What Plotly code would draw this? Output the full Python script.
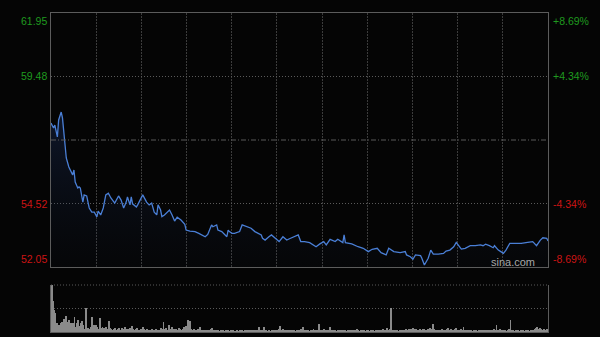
import plotly.graph_objects as go

# ---- data ----
prev_close = 57.00
price_min, price_max = 52.05, 61.95
left_tick_vals = [61.95, 59.48, 54.52, 52.05]
left_tick_text = ["61.95", "59.48", "54.52", "52.05"]
right_tick_text = ["+8.69%", "+4.34%", "-4.34%", "-8.69%"]
session_minutes = 390

minutes = [0, 2, 3, 5, 6, 8, 9, 11, 12, 14,
           16, 17, 18, 19, 21, 22, 23, 25, 26, 28,
           30, 32, 34, 36, 37, 39, 41, 43, 45, 47,
           50, 53, 55, 57, 59, 60, 62, 63, 64, 67,
           68, 72, 75, 77, 79, 81, 83, 84, 86, 87,
           89, 93, 95, 97, 99, 102, 105, 106, 109, 113,
           116, 121, 123, 126, 127, 130, 131, 134, 138, 139,
           140, 142, 144, 148, 150, 154, 157, 160, 163, 165,
           166, 168, 171, 173, 176, 179, 182, 185, 188, 194,
           196, 199, 203, 206, 208, 211, 214, 216, 219, 223,
           225, 229, 230, 231, 236, 241, 245, 249, 252, 256,
           259, 263, 265, 269, 274, 278, 279, 282, 284, 286,
           290, 291, 293, 296, 298, 300, 304, 308, 310, 313,
           316, 318, 320, 322, 325, 329, 333, 337, 339, 341,
           344, 347, 348, 351, 353, 355, 357, 360, 364, 369,
           374, 378, 381, 384, 386, 389, 390]

prices = [57.66, 57.47, 57.58, 57.12, 57.78, 58.09, 57.86, 56.69, 56.30, 55.95,
          55.71, 55.64, 55.83, 55.36, 55.13, 55.17, 55.13, 54.58, 54.86, 54.82,
          54.35, 54.19, 54.19, 54.00, 54.23, 54.08, 54.35, 54.86, 54.93, 54.74,
          54.54, 54.82, 54.66, 54.35, 54.58, 54.78, 54.47, 54.78, 54.51, 54.39,
          54.47, 54.86, 54.58, 54.47, 54.54, 54.19, 54.08, 54.47, 54.27, 54.01,
          54.08, 54.27, 54.08, 53.84, 53.99, 53.88, 53.71, 53.49, 53.45, 53.43,
          53.36, 53.23, 53.32, 53.69, 53.62, 53.69, 53.49, 53.43, 53.23, 53.49,
          53.43, 53.36, 53.36, 53.43, 53.69, 53.62, 53.56, 53.43, 53.36, 53.30,
          53.17, 53.10, 53.23, 53.30, 53.17, 53.04, 53.23, 53.10, 53.17, 53.30,
          53.04, 53.04, 53.00, 52.91, 52.84, 52.95, 53.04, 52.91, 53.13, 53.04,
          53.13, 53.00, 53.30, 53.00, 52.95, 52.84, 52.78, 52.65, 52.74, 52.78,
          52.61, 52.52, 52.78, 52.65, 52.61, 52.65, 52.52, 52.45, 52.35, 52.52,
          52.49, 52.39, 52.13, 52.39, 52.71, 52.55, 52.55, 52.58, 52.67, 52.71,
          52.84, 53.01, 52.88, 52.75, 52.78, 52.88, 52.88, 52.91, 52.88, 52.94,
          52.88, 52.80, 52.88, 52.71, 52.65, 52.58, 52.71, 52.97, 52.97, 52.97,
          53.01, 53.04, 52.88, 53.10, 53.19, 53.17, 53.06]

# per-minute volume (thousand shares), minute 0..390
volume = [47, 31, 22, 19, 9, 6, 7, 9, 10, 8,
          13, 16, 10, 6, 12, 9, 8, 9, 15, 5,
          9, 12, 6, 9, 11, 7, 3, 24, 4, 4,
          3, 5, 15, 7, 3, 7, 5, 3, 14, 4,
          5, 4, 3, 5, 3, 11, 4, 3, 2, 3,
          4, 2, 3, 4, 2, 4, 3, 2, 5, 3,
          2, 3, 4, 6, 3, 2, 3, 4, 2, 2,
          3, 2, 5, 3, 2, 3, 2, 1.5, 2, 3,
          2, 2, 3, 2, 1.5, 2, 4, 3, 10, 3,
          4, 2, 7, 3, 2, 5, 3, 2, 3, 2,
          4, 3, 2, 3, 5, 3, 6, 12, 4, 11,
          3, 2, 3, 2, 2, 3, 2, 5, 2, 1.5,
          2, 1.5, 2, 1.5, 2, 3, 4, 2, 1.5, 2,
          2, 1.5, 1, 1.5, 2, 1.5, 1, 1.5, 1, 1.5,
          1, 1.5, 1, 1.5, 1, 1, 1.5, 1, 1.5, 1,
          1.5, 1, 1.5, 1, 2, 1.5, 1, 1.5, 2, 1.5,
          2, 1.5, 2, 5, 2, 1.5, 2, 5, 2, 1.5,
          1, 1.5, 1, 1.5, 1, 1.5, 2, 1.5, 2, 3,
          6, 2, 3, 1.5, 2, 1.5, 1, 2, 1.5, 1,
          2, 1.5, 1, 2, 1.5, 2, 3, 2, 5, 1.5,
          1.5, 2, 1.5, 1, 2, 1.5, 3, 2, 1.5, 2,
          8, 2, 1.5, 2, 3, 1.5, 1, 1.5, 2, 5,
          2, 1.5, 1, 1.5, 1, 1.5, 1, 1.5, 2, 1.5,
          1, 1.5, 1, 1.5, 1, 2, 1.5, 1, 2, 1.5,
          3, 1.5, 1, 2, 1.5, 1, 1.5, 1, 2, 1.5,
          1, 1.5, 2, 1.5, 1, 2, 1.5, 2, 1.5, 2,
          2.5, 3, 2, 2.5, 4, 2, 3, 24, 2, 1.5,
          1, 2, 1.5, 1, 1.5, 1, 2, 1.5, 2, 3,
          2, 3, 2.5, 3, 4, 3, 2, 3, 2.5, 2,
          3, 2, 3, 3, 2, 2.5, 3, 2, 4, 3,
          8, 3, 2, 1.5, 2, 1.5, 2, 3, 2, 1.5,
          2, 3, 4, 2, 3, 2, 2.5, 3, 4, 2,
          1.5, 2, 3, 2, 5, 2, 1.5, 2, 1.5, 1,
          1.5, 1, 1.5, 1, 1.5, 1, 1.5, 1, 1.5, 2,
          1.5, 1, 1.5, 2, 1.5, 1, 1.5, 2, 3, 2,
          7, 2, 1.5, 3, 2, 1.5, 2, 1.5, 1, 2,
          3, 12, 2, 1.5, 1, 1.5, 1, 1.5, 1, 1.5,
          1, 1.5, 1, 1.5, 1, 1.5, 1, 1.5, 1.5, 2,
          3, 4, 5, 3, 4, 3, 2, 3, 2, 2,
          3]

# ---- styling ----
BG = "#050505"
GREEN = "#1f9a1f"
RED = "#cc1414"
BORDER = "#5c5c5c"
VGRID = "#3c3c3c"
HGRID = "#5a5a5a"
FONT = "Liberation Sans, Arial, sans-serif"

x_dom = [51 / 600, 548 / 600]
main_dom = [70 / 337, 324 / 337]
vol_dom = [5 / 337, 52 / 337]

fig = go.Figure()

fig.add_trace(go.Scatter(
    x=minutes, y=prices, mode="lines",
    line=dict(color="#4a7fd6", width=1.3),
    fill="tozeroy",
    fillgradient=dict(type="vertical",
                      colorscale=[[0, "rgba(20,35,70,0.05)"], [1, "rgba(40,70,140,0.28)"]],
                      start=price_min, stop=max(prices)),
    xaxis="x", yaxis="y", hoverinfo="skip",
))

fig.add_trace(go.Bar(
    x=list(range(len(volume))), y=volume,
    marker=dict(color="#8a8a8a", line=dict(width=0)),
    width=0.75, xaxis="x2", yaxis="y2", hoverinfo="skip",
))

grid_x = [session_minutes * k / 11 for k in range(1, 11)]

fig.update_layout(
    width=600, height=337,
    margin=dict(l=0, r=0, t=0, b=0),
    paper_bgcolor=BG, plot_bgcolor=BG,
    showlegend=False, bargap=0,
    xaxis=dict(domain=x_dom, range=[0, session_minutes], anchor="y",
               tickvals=grid_x, showticklabels=False, ticks="",
               showgrid=True, gridcolor=VGRID, griddash="2px,1px", gridwidth=1,
               zeroline=False, showline=True, linecolor=BORDER, linewidth=1, mirror=True),
    yaxis=dict(domain=main_dom, range=[price_min, price_max], anchor="x",
               tickvals=[left_tick_vals[1], left_tick_vals[2]], showticklabels=False, ticks="",
               showgrid=True, gridcolor=HGRID, griddash="1px,2px", gridwidth=1,
               zeroline=False, showline=True, linecolor=BORDER, linewidth=1, mirror=True),
    xaxis2=dict(domain=x_dom, range=[-0.5, session_minutes + 0.5], anchor="y2",
                showticklabels=False, ticks="", showgrid=False, zeroline=False,
                showline=True, linecolor=BORDER, linewidth=1),
    yaxis2=dict(domain=vol_dom, range=[0, max(volume)], anchor="x2",
                tickvals=[max(volume) / 2], showticklabels=False, ticks="",
                showgrid=True, gridcolor=HGRID, griddash="1px,2px", gridwidth=1,
                zeroline=False, showline=True, linecolor=BORDER, linewidth=1, mirror=True),
)

# previous close line and top of volume panel
fig.add_shape(type="line", xref="x domain", yref="y", x0=0, x1=1, y0=prev_close, y1=prev_close,
              line=dict(color="#5a5a5a", width=1, dash="5px,2px,1px,2px"))
fig.add_shape(type="line", xref="x2 domain", yref="y2 domain", x0=0, x1=1, y0=1, y1=1,
              line=dict(color=HGRID, width=1, dash="1px,2px"))

anchors = ["top", "middle", "middle", "bottom"]
for val, ltxt, rtxt, anc in zip(left_tick_vals, left_tick_text, right_tick_text, anchors):
    col = GREEN if val > prev_close else RED
    fig.add_annotation(x=x_dom[0], xref="paper", xanchor="right", xshift=-2,
                       y=val, yref="y", yanchor=anc, text=ltxt, showarrow=False,
                       font=dict(family=FONT, size=10.5, color=col))
    fig.add_annotation(x=x_dom[1], xref="paper", xanchor="left", xshift=3,
                       y=val, yref="y", yanchor=anc, text=rtxt, showarrow=False,
                       font=dict(family=FONT, size=10.5, color=col))

fig.add_annotation(x=537 / 600, xref="paper", xanchor="right",
                   y=75 / 337, yref="paper", yanchor="middle",
                   text="sina.com", showarrow=False,
                   font=dict(family=FONT, size=11, color="#a8a8a8"))

fig.write_html("out.html")
